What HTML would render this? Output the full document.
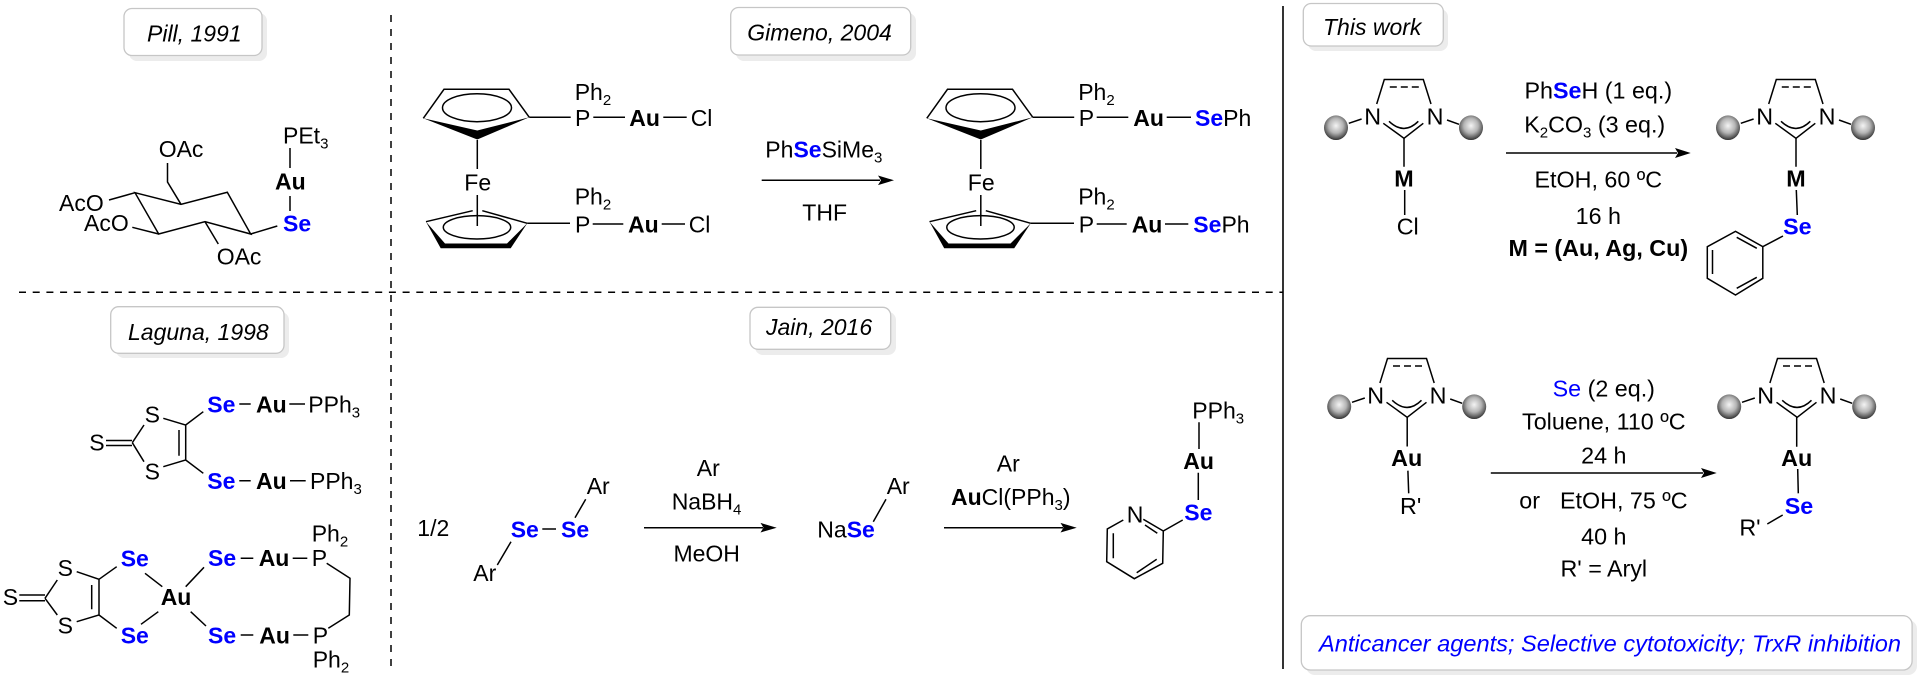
<!DOCTYPE html>
<html><head><meta charset="utf-8"><style>
html,body{margin:0;padding:0;background:#fff}
svg{display:block}
text{font-family:"Liberation Sans",sans-serif;font-size:23px;fill:#000}
.r text{font-size:23.3px}
.b{font-weight:bold}
.se{font-weight:bold;fill:#0000ff}
.i{font-style:italic}
.m{text-anchor:middle}
.l{stroke:#000;stroke-width:1.5;fill:none}
.box{fill:#fff;stroke:#c6c6c6;stroke-width:1.3}
.sh{fill:#ececec}
</style></head><body>
<svg width="1921" height="680" viewBox="0 0 1921 680" xmlns="http://www.w3.org/2000/svg">
<defs>
<radialGradient id="sp" cx="50%" cy="42%" r="60%"><stop offset="0" stop-color="#f4f4f4"/><stop offset=".5" stop-color="#b4b4b4"/><stop offset=".85" stop-color="#555"/><stop offset="1" stop-color="#222"/></radialGradient>
<g id="imid">
<path class="l" d="M1376.7 104L1384.3 79.5H1423.3L1431 104M1383.3 123.3L1404 138.3L1423.3 123.3M1389 121.3Q1404 135.5 1418.3 121.3M1348.8 123.3L1361.6 119M1447 120L1459 124.3"/>
<path class="l" d="M1389.8 87H1418.8" stroke-dasharray="7 4"/>
<ellipse cx="1336" cy="127.7" rx="12" ry="12.3" fill="url(#sp)"/>
<ellipse cx="1471" cy="127.7" rx="12" ry="12.3" fill="url(#sp)"/>
</g>
<g id="fcU">
<path class="l" d="M423.3 118.3L444 89.3H509L529.3 117.3"/>
<polygon points="423.3,118.3 477.3,130.5 529.3,117.3 477.3,139.5" fill="#000"/>
<ellipse class="l" cx="477" cy="107.7" rx="34.5" ry="14"/>
<path class="l" d="M477.3 140V169M477.3 195V226"/>
<path class="l" d="M426 221.7L472.7 210.7M482.3 210.7L527.3 223.3"/>
<polygon points="426,221.7 440.7,248.3 510.7,248.3 527.3,223.3 507,243.5 445,243.5" fill="#000"/>
<ellipse class="l" cx="477" cy="227.3" rx="33.7" ry="11.7"/>
</g>
</defs>

<!-- dividers -->
<path d="M391 15V673" stroke="#000" stroke-width="1.5" stroke-dasharray="7 7" fill="none"/>
<path d="M19 292.3H1283" stroke="#000" stroke-width="1.5" stroke-dasharray="7 6.7" fill="none"/>
<path d="M1283 6V669" stroke="#000" stroke-width="1.6" fill="none"/>

<!-- boxes -->
<rect class="sh" x="129" y="13" width="138" height="48" rx="8"/><rect class="box" x="124" y="8.5" width="138" height="47" rx="8"/>
<text class="i" x="147" y="41.7">Pill, 1991</text>
<rect class="sh" x="736" y="13" width="180" height="48" rx="8"/><rect class="box" x="730.7" y="7.5" width="180" height="47.5" rx="8"/>
<text class="i" x="747.3" y="40.7">Gimeno, 2004</text>
<rect class="sh" x="116" y="312" width="173" height="46" rx="8"/><rect class="box" x="110.7" y="306.7" width="173.3" height="46.6" rx="8"/>
<text class="i" x="128" y="340">Laguna, 1998</text>
<rect class="sh" x="755" y="312" width="141" height="43" rx="8"/><rect class="box" x="750" y="307.3" width="140.7" height="42" rx="8"/>
<text class="i" x="766" y="335">Jain, 2016</text>
<rect class="sh" x="1308" y="9" width="140" height="42" rx="8"/><rect class="box" x="1303.3" y="3.5" width="140" height="42.5" rx="8"/>
<text class="i" x="1323" y="35">This work</text>
<rect class="sh" x="1306" y="620" width="611" height="55" rx="9"/><rect class="box" x="1301.3" y="615.7" width="610.8" height="54.3" rx="9"/>
<text class="i" x="1319" y="651.7" style="fill:#0000ff" textLength="582" lengthAdjust="spacingAndGlyphs">Anticancer agents; Selective cytotoxicity; TrxR inhibition</text>

<!-- Pill -->
<path class="l" d="M135 192.7L181 204.3L227.3 192.3L250.7 234L205 221.7L158.7 234Z"/>
<path class="l" d="M181 204.3L167.5 182V163M135 192.7L109 200M158.7 234L132.3 227.3M205 221.7L218.3 244M250.7 234L277.3 226M290 148V168M290 196V211"/>
<text x="158.7" y="157">OAc</text>
<text x="59" y="211">AcO</text>
<text x="84" y="231">AcO</text>
<text x="216.7" y="264.7">OAc</text>
<text class="se" x="283" y="231.3">Se</text>
<text class="b" x="275" y="189.3">Au</text>
<text x="283" y="143.3">PEt<tspan dy="5" style="font-size:15px">3</tspan></text>

<!-- Gimeno -->
<use href="#fcU"/>
<use href="#fcU" x="503.5"/>
<path class="l" d="M529.3 117.3H570.7M593.3 117.3H625M663.3 117.3H686.7M527.3 223.3H570M592.7 224H623.3M661.7 224H685"/>
<text x="464.3" y="190.7">Fe</text>
<text x="575" y="126">P</text>
<text x="574.7" y="100">Ph<tspan dy="5" style="font-size:15px">2</tspan></text>
<text class="b" x="629.3" y="126">Au</text>
<text x="690.7" y="126">Cl</text>
<text x="575" y="232.3">P</text>
<text x="574.7" y="204.7">Ph<tspan dy="5" style="font-size:15px">2</tspan></text>
<text class="b" x="628" y="232.3">Au</text>
<text x="688.7" y="232.3">Cl</text>
<text x="765.3" y="157.3">Ph<tspan class="se">Se</tspan>SiMe<tspan dy="5" style="font-size:15px">3</tspan></text>
<path class="l" d="M761.7 180.3H880"/><polygon points="894,180.3 878,175.5 881,180.3 878,185.1" fill="#000"/>
<text x="802.3" y="220.7">THF</text>
<path class="l" d="M1032.8 117.3H1074.2M1096.7 117.3H1128.3M1166.7 117.3H1191M1030.8 223.3H1074M1096.7 224H1126.7M1165 224H1188.3"/>
<text x="967.8" y="190.7">Fe</text>
<text x="1078.7" y="126">P</text>
<text x="1078.2" y="100">Ph<tspan dy="5" style="font-size:15px">2</tspan></text>
<text class="b" x="1133.3" y="126">Au</text>
<text x="1195" y="126"><tspan class="se">Se</tspan>Ph</text>
<text x="1078.7" y="232.3">P</text>
<text x="1078.2" y="204.7">Ph<tspan dy="5" style="font-size:15px">2</tspan></text>
<text class="b" x="1131.7" y="232.3">Au</text>
<text x="1193.3" y="232.3"><tspan class="se">Se</tspan>Ph</text>

<!-- Laguna top -->
<path class="l" d="M106 440.5H132M106 445.5H132M132.3 442.7L144 425M132.3 442.7L144 461.7M163.3 418.3L185.7 425V460L163.3 466.7M179 430V455.7M185.7 425L203.3 411.7M185.7 460L203.3 473.3M239.3 404H250.7M289.3 404H305M239.3 480.7H250.7M290 480.7H305.7"/>
<text x="89.3" y="450.7">S</text>
<text class="m" x="152.3" y="422.7">S</text>
<text class="m" x="152.3" y="479.3">S</text>
<text class="se" x="207.3" y="412.3">Se</text>
<text class="b" x="256" y="412.3">Au</text>
<text x="308.3" y="412.3">PPh<tspan dy="5" style="font-size:15px">3</tspan></text>
<text class="se" x="207.3" y="489">Se</text>
<text class="b" x="256" y="489">Au</text>
<text x="310" y="489">PPh<tspan dy="5" style="font-size:15px">3</tspan></text>

<!-- Laguna bottom -->
<path class="l" d="M19.3 595H45M19.3 600.7H45M45 598.3L57.3 580M45 598.3L57.3 615M76.7 571.7L99 579.3V615L76.7 621.7M91.7 585V609.3M99 579.3L116.7 566.7M99 615L116.7 628.3M145 573.3L162.3 586.7M158.3 611.7L141 624.3M185.7 586.7L204 567.3M190.7 611.7L206 626M240.7 558.3H253.3M292.7 558.3H307.3M326.7 563.3L350 578.3L349.3 615L328.3 628.3M240.7 635H253.3M293.3 635H308.3"/>
<text x="2.7" y="605">S</text>
<text class="m" x="65.3" y="576">S</text>
<text class="m" x="65.3" y="633.3">S</text>
<text class="se" x="120.7" y="566.7">Se</text>
<text class="se" x="120.7" y="643.3">Se</text>
<text class="b" x="160.7" y="605">Au</text>
<text class="se" x="208" y="566">Se</text>
<text class="b" x="258.7" y="566">Au</text>
<text x="311.7" y="566">P</text>
<text x="311.7" y="541.7">Ph<tspan dy="5" style="font-size:15px">2</tspan></text>
<text class="se" x="208" y="643.3">Se</text>
<text class="b" x="259.3" y="643.3">Au</text>
<text x="312.7" y="643.3">P</text>
<text x="312.7" y="667.7">Ph<tspan dy="5" style="font-size:15px">2</tspan></text>

<!-- Jain -->
<text x="417.3" y="536">1/2</text>
<path class="l" d="M542.3 529H556M585.7 499.3L575 517.7M511 541.7L497.3 565M873.3 521.7L886 499.3"/>
<text class="se" x="510.7" y="537.3">Se</text>
<text class="se" x="561" y="537.3">Se</text>
<text x="586.7" y="494">Ar</text>
<text x="473.3" y="581">Ar</text>
<text class="m" x="708.3" y="476">Ar</text>
<text x="671.7" y="509.3">NaBH<tspan dy="5" style="font-size:15px">4</tspan></text>
<path class="l" d="M644 527.7H763"/><polygon points="776.7,527.7 760.5,522.9 763.5,527.7 760.5,532.5" fill="#000"/>
<text class="m" x="706.7" y="561.7">MeOH</text>
<text x="817.3" y="537.3">Na<tspan class="se">Se</tspan></text>
<text x="886.7" y="494">Ar</text>
<text class="m" x="1008.3" y="471.7">Ar</text>
<text x="951" y="505"><tspan class="b">Au</tspan>Cl(PPh<tspan dy="5" style="font-size:15px">3</tspan><tspan dy="-5">)</tspan></text>
<path class="l" d="M944 527.7H1063"/><polygon points="1076.7,527.7 1060.5,522.9 1063.5,527.7 1060.5,532.5" fill="#000"/>
<path class="l" d="M1123.3 520L1107.3 529L1106.7 561.7L1134.3 578.7L1162.7 563.3L1163.3 531L1143.3 519.3M1145 525L1157.3 533.3M1113.3 533.3V558.3M1136.7 572.7L1156.7 559.3M1163.3 531L1182.7 520M1198.3 472.7V500M1199 422.3V449"/>
<text class="m" x="1135" y="522.3">N</text>
<text class="se" x="1184.3" y="520.7">Se</text>
<text class="b" x="1183.3" y="469">Au</text>
<text x="1192.3" y="418.3">PPh<tspan dy="5" style="font-size:15px">3</tspan></text>

<!-- This work, reaction 1 -->
<g class="r">
<use href="#imid"/>
<use href="#imid" x="392"/>
<path class="l" d="M1404 138.3V166.7M1404.7 190V215M1796 138.3V166.7M1796.3 190L1797.3 215M1783 236L1762.8 246.7L1735.5 231.3L1707.3 246.7V278.3L1735.5 295L1762.8 278.3V246.7M1736.7 237.3L1756.8 248.3M1712.5 250V274M1736.7 288.3L1756.8 277.3"/>
<text class="m" x="1372.7" y="124.3">N</text>
<text class="m" x="1435" y="124.3">N</text>
<text class="b m" x="1404" y="186.7">M</text>
<text class="m" x="1407.7" y="234.7">Cl</text>
<text class="m" x="1764.7" y="124.3">N</text>
<text class="m" x="1827" y="124.3">N</text>
<text class="b m" x="1796" y="186.7">M</text>
<text class="se m" x="1797.4" y="234.3">Se</text>
<text class="m" x="1598.3" y="98.7">Ph<tspan class="se">Se</tspan>H (1 eq.)</text>
<text x="1524.2" y="132.3">K<tspan dy="5" style="font-size:15px">2</tspan><tspan dy="-5">CO</tspan><tspan dy="5" style="font-size:15px">3</tspan><tspan dy="-5"> (3 eq.)</tspan></text>
<path class="l" d="M1506 153H1677"/><polygon points="1690.7,153 1675,148 1678,153 1675,158" fill="#000"/>
<text class="m" x="1598.3" y="187.3">EtOH, 60 ºC</text>
<text class="m" x="1598.3" y="224">16 h</text>
<text class="b m" x="1598.3" y="256">M = (Au, Ag, Cu)</text>

<!-- reaction 2 -->
<use href="#imid" x="3.2" y="279"/>
<use href="#imid" x="393.2" y="279"/>
<path class="l" d="M1407.2 417.3V446.5M1407.9 470.7L1408.7 493.3M1796.7 417.3V446.7M1797.7 469L1798.3 493.3M1782.7 515L1767.3 524"/>
<text class="m" x="1375.7" y="403.3">N</text>
<text class="m" x="1438.1" y="403.3">N</text>
<text class="b m" x="1406.7" y="466">Au</text>
<text class="m" x="1410.7" y="514">R'</text>
<text class="m" x="1765.7" y="403.3">N</text>
<text class="m" x="1828.1" y="403.3">N</text>
<text class="b m" x="1796.7" y="466">Au</text>
<text class="se m" x="1799" y="514">Se</text>
<text class="m" x="1750" y="535.7">R'</text>
<text class="m" x="1603.8" y="396.7"><tspan style="fill:#0000ff">Se</tspan> (2 eq.)</text>
<text class="m" x="1603.8" y="429.3">Toluene, 110 ºC</text>
<text class="m" x="1603.8" y="463.3">24 h</text>
<path class="l" d="M1490.8 473H1703"/><polygon points="1716.7,473 1701,468 1704,473 1701,478" fill="#000"/>
<text x="1519.3" y="508.3">or</text>
<text x="1560" y="508.3">EtOH, 75 ºC</text>
<text class="m" x="1603.8" y="544.3">40 h</text>
<text class="m" x="1603.8" y="576.7">R' = Aryl</text>
</g>
</svg>
</body></html>
